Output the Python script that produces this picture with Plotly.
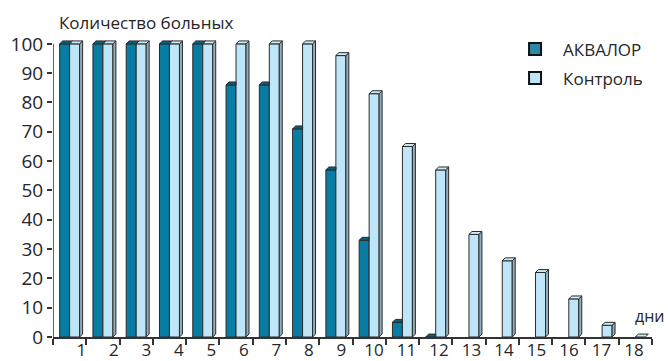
import plotly.graph_objects as go

# Days of observation and share of patients still ill (%)
days = [str(d) for d in range(1, 19)]
akvalor = [100, 100, 100, 100, 100, 86, 86, 71, 57, 33, 5, 0,
           None, None, None, None, None, None]
control = [100, 100, 100, 100, 100, 100, 100, 100, 96, 83, 65, 57,
           35, 26, 22, 13, 4, 0]
y_ticks = list(range(0, 101, 10))

# pseudo-3D geometry (axis units): depth offset and bar placement inside a day slot
DX, DY = 0.09, 1.0
BW = 0.3
DARK_OFF, LIGHT_OFF = 0.8, 0.5     # left edge measured back from the slot's right edge

DARK, DARK_TOP, DARK_SIDE = "#087ca3", "#0b5f7c", "#065a75"
LIGHT, LIGHT_TOP, LIGHT_SIDE = "#bfe6f8", "#cdebf7", "#93adbd"
EDGE = "#2b2b2b"
TXT = "#262626"
FONT = "Open Sans"

fig = go.Figure()


def front(values, off, color):
    xs, ys = [], []
    for i, v in enumerate(values, start=1):
        if v is None:
            continue
        xs.append(i - off + BW / 2)
        ys.append(v)
    fig.add_trace(go.Bar(x=xs, y=ys, width=BW, marker=dict(color=color, line=dict(color=EDGE, width=1)),
                         showlegend=False, hoverinfo="skip"))


def faces(values, off, top_color, side_color, neighbour=None):
    tx, ty, sx, sy = [], [], [], []
    for i, v in enumerate(values, start=1):
        if v is None:
            continue
        x0 = i - off
        x1 = x0 + BW
        nb = neighbour[i - 1] if neighbour else None
        hidden_side = nb is not None and nb >= v
        clip_top = nb is not None and nb > v
        xr = x1 if clip_top else x1 + DX
        tx += [x0, x0 + DX, xr, x1, x0, None]
        ty += [v, v + DY, v + DY, v, v, None]
        if not hidden_side and v > 0:
            sx += [x1, x1 + DX, x1 + DX, x1, x1, None]
            sy += [0, DY, v + DY, v, 0, None]
    if sx:
        fig.add_trace(go.Scatter(x=sx, y=sy, mode="lines", fill="toself", fillcolor=side_color,
                                 line=dict(color=EDGE, width=1), showlegend=False, hoverinfo="skip"))
    fig.add_trace(go.Scatter(x=tx, y=ty, mode="lines", fill="toself", fillcolor=top_color,
                             line=dict(color=EDGE, width=1), showlegend=False, hoverinfo="skip"))


front(akvalor, DARK_OFF, DARK)
front(control, LIGHT_OFF, LIGHT)
faces(akvalor, DARK_OFF, DARK_TOP, DARK_SIDE, neighbour=control)
faces(control, LIGHT_OFF, LIGHT_TOP, LIGHT_SIDE)

# legend entries
for name, col, grp in [("АКВАЛОР", "#2a88a8", "a"), ("Контроль", LIGHT, "b")]:
    fig.add_trace(go.Bar(x=[None], y=[None], name=name, legendgroup=grp,
                         marker=dict(color=col, line=dict(color="#111", width=2))))

# day labels sit slightly left of the slot edges (perspective of the floor)
label_pos = [0.85 + 0.977 * k for k in range(len(days))]

fig.add_shape(type="line", xref="x", yref="y", x0=0, x1=0, y0=0, y1=100,
              line=dict(color="#333", width=1.5), layer="above")

fig.update_layout(
    width=668, height=361,
    margin=dict(l=53, r=16, t=38, b=24, autoexpand=False),
    paper_bgcolor="white", plot_bgcolor="white",
    barmode="overlay",
    font=dict(family=FONT, color=TXT),
    xaxis=dict(range=[0, 18], showgrid=False, zeroline=False, showline=True, automargin=False,
               linecolor="#333", linewidth=1.5,
               tickmode="array", tickvals=label_pos, ticktext=days, ticks="",
               tickfont=dict(size=17, color=TXT), ticklabelstandoff=-3,
               minor=dict(tickmode="array", tickvals=list(range(19)), ticks="outside",
                          ticklen=6, tickwidth=1.5, tickcolor="#333", showgrid=False)),
    yaxis=dict(range=[0, 102], showgrid=False, zeroline=False, showline=False, automargin=False,
               tickmode="array", tickvals=y_ticks, ticks="outside", ticklen=5,
               tickwidth=1.5, tickcolor="#333", tickfont=dict(size=19, color=TXT)),
    legend=dict(x=0.758, y=1.022, xanchor="left", yanchor="top", bgcolor="rgba(0,0,0,0)",
                itemwidth=46, tracegroupgap=4, font=dict(size=17, color=TXT)),
    annotations=[
        dict(text="Количество больных", xref="paper", yref="paper", x=0.007, y=1.0535,
             xanchor="left", yanchor="middle", showarrow=False, font=dict(size=17, color=TXT)),
        dict(text="дни", xref="paper", yref="paper", x=1.025, y=0.0702,
             xanchor="right", yanchor="middle", showarrow=False, font=dict(size=16, color=TXT)),
    ],
)

fig.write_html("out.html")
